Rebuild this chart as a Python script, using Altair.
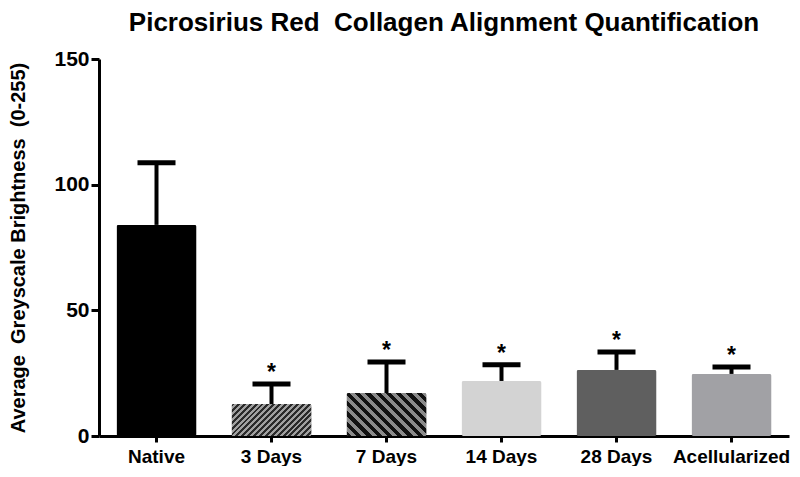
import altair as alt
import pandas as pd

categories = ["Native", "3 Days", "7 Days", "14 Days", "28 Days", "Acellularized"]
means = [84, 12.7, 17.1, 21.9, 26.3, 24.7]
errors = [24.7, 8.0, 12.3, 6.4, 7.1, 2.8]
stars = ["", "*", "*", "*", "*", "*"]
fills = ["#000000", "#9a9a9a", "#858585", "#d3d3d3", "#5f5f5f", "#a1a1a5"]

PLOT_W, PLOT_H = 690, 377
Y_MAX = 150
FONT = "Liberation Sans"
NB = "\u00a0"

df = pd.DataFrame({
    "cat": categories,
    "mean": means,
    "err": errors,
    "top": [m + e for m, e in zip(means, errors)],
    "star": stars,
})

x = alt.X("cat:N", sort=categories,
          scale=alt.Scale(paddingInner=0.304, paddingOuter=0.152),
          axis=alt.Axis(title=None, labelAngle=0, labelFont=FONT, labelFontSize=19,
                        labelFontWeight="bold", labelColor="black", labelPadding=5,
                        tickSize=6, tickWidth=3, tickColor="black",
                        domainWidth=3, domainColor="black"))
y_scale = alt.Scale(domain=[0, Y_MAX], nice=False)
y = alt.Y("mean:Q", scale=y_scale,
          axis=alt.Axis(title=f"Average{NB}{NB}Greyscale Brightness{NB}{NB}(0-255)",
                        values=[0, 50, 100, 150],
                        labelFont=FONT, labelFontSize=21, labelFontWeight="bold",
                        labelColor="black", labelPadding=2,
                        tickSize=8, tickWidth=3, tickColor="black",
                        domainWidth=3, domainColor="black", grid=False,
                        titleFont=FONT, titleFontSize=20, titleFontWeight="bold",
                        titleColor="black", titlePadding=25))

base = alt.Chart(df)

bars = base.mark_bar(cornerRadius=2).encode(
    x=x, y=y,
    color=alt.Color("cat:N", scale=alt.Scale(domain=categories, range=fills), legend=None),
)


def stripe_gradient(value, dark, light, period_px, down_right, dark_frac):
    w = PLOT_W / len(categories) * (1 - 0.304)
    h = value * PLOT_H / Y_MAX
    r = h / w
    t = (1 + r) / (1 + r * r)
    if down_right:
        x1, y1, x2, y2 = 0, 1, t, 1 - t * r
    else:
        x1, y1, x2, y2 = 0, 0, t, t * r
    n = max(1, round((w + h) / 1.4142 / period_px))
    stops = []
    for i in range(n):
        a = i / n
        b = (i + dark_frac) / n
        c = (i + 1) / n
        stops += [alt.GradientStop(offset=a, color=dark), alt.GradientStop(offset=b, color=dark),
                  alt.GradientStop(offset=b, color=light), alt.GradientStop(offset=c, color=light)]
    return alt.LinearGradient(gradient="linear", stops=stops, x1=x1, y1=y1, x2=x2, y2=y2)


pat3 = base.transform_filter(alt.datum.cat == "3 Days").mark_bar(
    cornerRadius=2,
    color=stripe_gradient(means[1], "#2a2a2a", "#a0a0a0", 4.2, False, 0.5),
).encode(x=x, y=y)

pat7 = base.transform_filter(alt.datum.cat == "7 Days").mark_bar(
    cornerRadius=2,
    color=stripe_gradient(means[2], "#111111", "#8a8a8a", 7.5, True, 0.5),
).encode(x=x, y=y)

err_rule = base.mark_rule(color="black", strokeWidth=4).encode(
    x=x, y=alt.Y("mean:Q", scale=y_scale), y2="top:Q")
err_cap = base.mark_tick(color="black", thickness=5, size=38, opacity=1).encode(
    x=x, y=alt.Y("top:Q", scale=y_scale))
star_text = base.mark_text(font=FONT, fontSize=23, fontWeight="bold", color="black",
                           baseline="alphabetic", dy=-4).encode(
    x=x, y=alt.Y("top:Q", scale=y_scale), text="star:N")

chart = alt.layer(bars, pat3, pat7, err_rule, err_cap, star_text).properties(
    width=PLOT_W, height=PLOT_H,
    title=alt.TitleParams(f"Picrosirius Red{NB}{NB}Collagen Alignment Quantification",
                          font=FONT, fontSize=26, fontWeight="bold", color="black",
                          anchor="middle", offset=12),
    padding={"left": 0, "top": 2, "right": 0, "bottom": 0},
).configure_view(stroke=None)

chart.save("out.html", embed_options={"renderer": "svg", "actions": False})
